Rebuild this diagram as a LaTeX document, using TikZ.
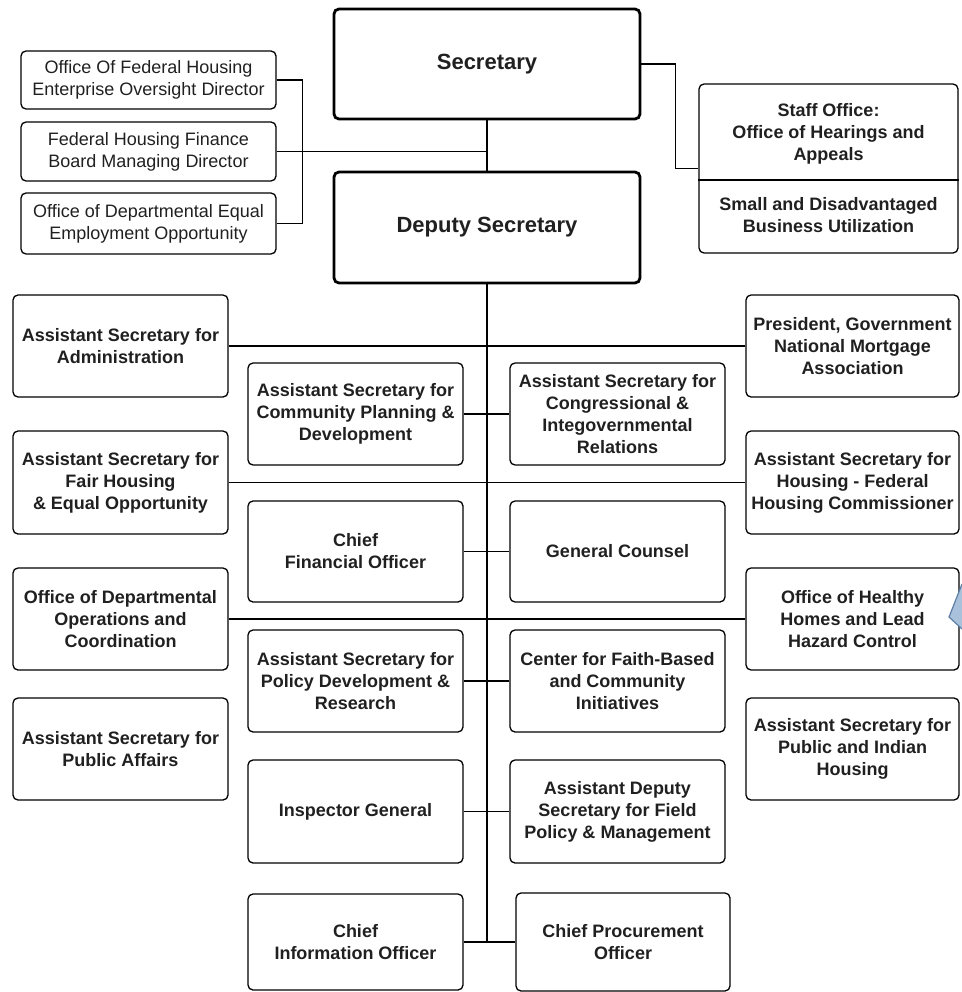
\documentclass[tikz,border=0pt]{standalone}
\usepackage{fontspec}
\setmainfont{Liberation Sans}
\definecolor{txt}{HTML}{202020}
\definecolor{calloutfill}{HTML}{A9C1DA}
\definecolor{calloutline}{HTML}{5E7FA6}
\begin{document}
\begin{tikzpicture}[x=1pt,y=-1pt,
  box/.style={draw, line width=1.3pt, rounded corners=5pt, align=center, text=txt,
    font=\bfseries\fontsize{18}{22}\selectfont, inner sep=0pt},
  reg/.style={font=\fontsize{18}{22}\selectfont},
  big/.style={line width=2.8pt, font=\bfseries\fontsize{22}{26}\selectfont},
  wh/.style 2 args={minimum width=#1pt, minimum height=#2pt},
  plain/.style={align=center, text=txt, font=\bfseries\fontsize{18}{22}\selectfont, inner sep=0pt},
  link/.style={line width=1.3pt}]
\useasboundingbox (0,0) rectangle (961,992);

% top
\node[box, big, wh={306}{110}] (sec) at (487,64) {Secretary};
\node[box, big, wh={306}{111}] (dep) at (487,227.5) {Deputy Secretary};

\node[box, reg, wh={255}{58}] (fheo) at (148.5,80) {Office Of Federal Housing\\Enterprise Oversight Director};
\node[box, reg, wh={255}{59}] (fhfb) at (148.5,151.5) {Federal Housing Finance\\Board Managing Director};
\node[box, reg, wh={255}{61}] (odeeo) at (148.5,223.5) {Office of Departmental Equal\\Employment Opportunity};

\node[box, wh={259}{169}] (staff) at (828.5,168.5) {};
\node[plain] (staffA) at (828.5,134) {Staff Office:\\Office of Hearings and\\Appeals};
\node[plain] (staffB) at (828.5,215) {Small and Disadvantaged\\Business Utilization};
\draw[link] (staff.west |- 0,180) -- (staff.east |- 0,180);

% left column
\node[box, wh={215}{102}] (adm) at (120.5,346) {Assistant Secretary for\\Administration};
\node[box, wh={215}{103}] (fheq) at (120.5,482.5) {Assistant Secretary for\\Fair Housing\\\& Equal Opportunity};
\node[box, wh={215}{102}] (ops) at (120.5,619) {Office of Departmental\\Operations and\\Coordination};
\node[box, wh={215}{102}] (pa) at (120.5,749) {Assistant Secretary for\\Public Affairs};

% middle left
\node[box, wh={215}{102}] (cpd) at (355.5,414) {Assistant Secretary for\\Community Planning \&\\Development};
\node[box, wh={215}{101}] (cfo) at (355.5,551.5) {Chief\\Financial Officer};
\node[box, wh={215}{102}] (pdr) at (355.5,681) {Assistant Secretary for\\Policy Development \&\\Research};
\node[box, wh={215}{103}] (ig) at (355.5,811.5) {Inspector General};
\node[box, wh={215}{96}] (cio) at (355.5,942) {Chief\\Information Officer};

% middle right
\node[box, wh={215}{102}] (cong) at (617.5,414) {Assistant Secretary for\\Congressional \&\\Integovernmental\\Relations};
\node[box, wh={215}{101}] (gc) at (617.5,551.5) {General Counsel};
\node[box, wh={215}{102}] (faith) at (617.5,681) {Center for Faith-Based\\and Community\\Initiatives};
\node[box, wh={215}{103}] (ads) at (617.5,811.5) {Assistant Deputy\\Secretary for Field\\Policy \& Management};
\node[box, wh={214}{98}] (cpo) at (623,942) {Chief Procurement\\Officer};

% right column
\node[box, wh={213}{102}] (gnma) at (852.5,346) {President, Government\\National Mortgage\\Association};
\node[box, wh={213}{103}] (hous) at (852.5,482.5) {Assistant Secretary for\\Housing - Federal\\Housing Commissioner};
\node[box, wh={213}{102}] (hh) at (852.5,619) {Office of Healthy\\Homes and Lead\\Hazard Control};
\node[box, wh={213}{102}] (pih) at (852.5,749) {Assistant Secretary for\\Public and Indian\\Housing};

% connectors
\draw[link] (sec.south) -- (dep.north);
\draw[link] (fhfb.east) -- (fhfb.east -| sec.south);
\draw[link] (fheo.east) -- ++(26,0) |- (odeeo.east);
\draw[link] (sec.east) -- ++(34,0) |- (staff.west);
\draw[link] (dep.south) -- (dep.south |- cio.east);
\draw[link] (adm.east) -- (gnma.west);
\draw[link] (fheq.east) -- (hous.west);
\draw[link] (ops.east) -- (hh.west);
\draw[link] (cpd.east) -- (cong.west);
\draw[link] (cfo.east) -- (gc.west);
\draw[link] (pdr.east) -- (faith.west);
\draw[link] (ig.east) -- (ads.west);
\draw[link] (cio.east) -- (cpo.west);

% callout fragment at right edge
\filldraw[fill=calloutfill, draw=calloutline, line width=1.2pt] (962,584) -- (949,617) -- (962,629);
\end{tikzpicture}
\end{document}
